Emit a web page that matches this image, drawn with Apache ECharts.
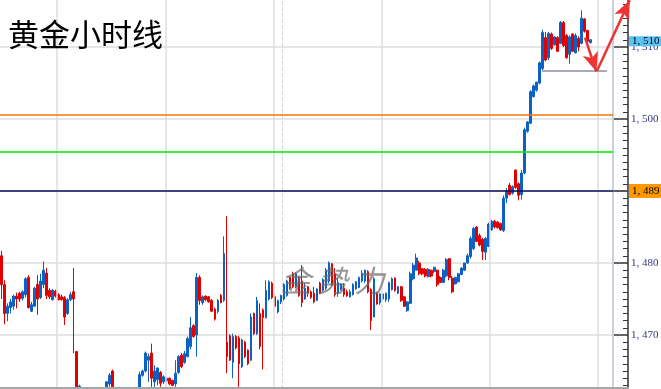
<!DOCTYPE html>
<html><head><meta charset="utf-8">
<script src="https://cdn.jsdelivr.net/npm/echarts@6/dist/echarts.min.js"></script>
<style>html,body{margin:0;padding:0;background:#fff;}#c{width:661px;height:389px;}</style>
</head><body><div id="c"></div>
<script>
// ---- data ----
const titleText = '黄金小时线';
const watermarkText = '金 势 力';

const opens = [
1481.0,1477.0,1473.0,1473.8,1474.0,1475.4,1475.8,1475.1,1475.6,1478.0,
1473.3,1474.0,1477.0,1475.2,1477.0,1478.6,1476.2,1474.9,1476.1,1475.6,
1475.3,1475.2,1473.0,1474.9,1476.0,1467.7,1461.5,1462.4,1461.6,1461.9,
1461.3,1460.9,1461.5,1461.2,1461.8,1462.0,1463.2,1465.0,1462.4,1461.8,
1461.2,1460.8,1461.4,1461.0,1461.6,1461.9,1462.2,1464.4,1465.0,1466.5,
1467.5,1463.5,1463.8,1464.8,1463.5,1463.6,1464.0,1463.7,1463.2,1464.8,
1467.2,1466.2,1467.0,1468.4,1471.3,1470.0,1478.0,1474.5,1475.4,1475.3,
1474.8,1473.6,1473.3,1475.5,1474.8,1469.0,1469.9,1466.2,1469.8,1469.6,
1465.6,1469.0,1467.9,1466.5,1473.0,1470.2,1473.0,1473.5,1472.4,1475.0,
1477.2,1475.3,1473.2,1474.6,1475.0,1475.5,1478.0,1478.5,1476.7,1478.0,
1477.5,1475.0,1476.7,1476.0,1475.8,1474.8,1477.2,1476.2,1476.5,1477.5,
1479.9,1478.5,1475.8,1476.3,1476.5,1476.0,1475.3,1475.6,1476.4,1476.6,
1477.5,1477.5,1478.8,1476.3,1472.5,1475.8,1474.5,1475.0,1474.9,1475.0,
1476.3,1477.9,1475.8,1476.7,1475.3,1473.4,1474.4,1477.8,1479.0,1480.0,
1479.2,1479.1,1478.1,1479.0,1478.8,1479.0,1478.0,1477.3,1478.2,1480.6,
1477.9,1477.1,1477.4,1478.4,1479.0,1480.0,1480.9,1482.0,1485.0,1483.8,
1483.3,1481.5,1482.3,1484.6,1485.8,1485.7,1485.5,1484.5,1489.0,1490.8,
1489.7,1492.9,1491.0,1489.5,1492.5,1498.3,1499.4,1503.1,1504.0,1505.0,
1507.0,1511.3,1508.5,1511.8,1510.3,1511.3,1510.5,1513.4,1511.6,1509.0,
1511.8,1509.2,1511.2,1510.5,1513.9,1512.3,1510.6];

const closes = [
1477.0,1473.0,1474.0,1474.6,1475.4,1475.0,1475.0,1476.0,1477.8,1473.8,
1474.2,1476.5,1475.0,1477.5,1479.0,1475.5,1475.3,1476.2,1475.4,1474.9,
1474.9,1472.5,1474.9,1475.6,1475.0,1461.0,1462.9,1461.6,1461.9,1461.3,
1460.9,1461.5,1461.2,1461.8,1462.1,1463.5,1464.4,1462.8,1461.8,1461.2,
1460.8,1461.4,1461.0,1461.6,1461.9,1462.2,1464.5,1465.0,1467.5,1467.0,
1464.0,1465.0,1465.4,1463.3,1464.2,1464.0,1463.2,1463.0,1464.7,1467.0,
1465.6,1467.4,1469.5,1471.0,1469.8,1478.0,1474.8,1475.3,1474.9,1474.6,
1473.3,1472.2,1474.8,1474.5,1481.3,1467.0,1466.5,1469.8,1468.2,1466.0,
1469.3,1467.0,1466.0,1472.5,1470.2,1474.8,1468.4,1472.4,1476.2,1477.4,
1475.2,1474.0,1474.8,1475.5,1477.0,1477.5,1476.5,1476.7,1478.5,1475.5,
1474.5,1476.5,1475.8,1475.2,1474.6,1476.4,1475.8,1477.7,1479.0,1480.0,
1477.0,1475.6,1477.3,1477.1,1475.6,1475.4,1476.0,1477.0,1477.4,1478.0,
1478.6,1479.0,1476.0,1472.0,1477.8,1474.3,1475.7,1475.7,1475.8,1477.3,
1477.8,1476.2,1476.7,1474.8,1474.0,1474.6,1478.5,1479.7,1480.7,1478.5,
1478.5,1478.2,1479.1,1478.2,1479.4,1477.0,1477.3,1479.0,1480.5,1478.0,
1476.0,1478.0,1478.5,1479.3,1480.0,1481.0,1483.4,1484.8,1483.0,1482.5,
1481.6,1483.4,1485.4,1485.8,1485.0,1484.9,1484.6,1489.0,1490.0,1489.5,
1490.6,1490.5,1489.4,1492.5,1498.5,1499.6,1503.8,1504.6,1505.1,1507.8,
1512.0,1508.2,1511.9,1509.8,1511.4,1509.4,1513.4,1510.2,1508.5,1511.4,
1509.4,1511.6,1510.0,1514.0,1512.2,1510.8,1511.0];

const lows = [
1475.0,1471.5,1471.9,1473.0,1473.5,1473.7,1474.6,1474.8,1475.2,1473.7,
1473.2,1473.9,1472.8,1475.0,1476.5,1475.0,1475.0,1474.8,1475.2,1474.8,
1474.8,1471.4,1472.8,1474.7,1467.5,1460.0,1460.5,1461.0,1461.2,1460.8,
1460.5,1460.6,1460.9,1461.0,1461.5,1461.5,1462.8,1462.0,1461.3,1460.7,
1460.3,1460.5,1460.6,1460.8,1461.3,1461.6,1461.5,1464.2,1464.8,1463.5,
1462.8,1462.8,1463.0,1462.8,1463.2,1463.4,1463.0,1462.9,1462.8,1464.6,
1465.4,1466.0,1466.9,1468.0,1469.6,1467.0,1474.2,1474.2,1474.7,1474.5,
1473.2,1472.0,1473.0,1474.4,1474.6,1464.7,1466.4,1464.0,1468.0,1462.6,
1465.4,1466.8,1465.8,1466.4,1470.0,1470.0,1468.0,1465.2,1472.3,1474.8,
1475.0,1473.9,1473.0,1474.3,1474.8,1475.3,1476.3,1476.5,1476.5,1475.3,
1473.9,1474.9,1475.3,1475.0,1474.4,1474.7,1475.7,1476.0,1476.2,1477.2,
1476.8,1475.3,1475.3,1476.2,1475.3,1475.3,1475.2,1475.5,1476.3,1476.5,
1477.3,1477.2,1475.8,1470.7,1472.5,1474.2,1474.2,1474.9,1474.6,1474.6,
1476.2,1476.0,1475.7,1474.6,1473.9,1473.2,1474.3,1477.6,1479.0,1478.3,
1478.3,1478.0,1478.0,1478.0,1478.6,1476.7,1477.2,1477.2,1478.0,1477.6,
1475.8,1477.0,1477.3,1478.3,1478.9,1479.9,1480.6,1481.8,1482.9,1482.3,
1480.4,1480.4,1482.2,1484.5,1484.8,1484.8,1484.5,1484.3,1488.3,1489.4,
1489.5,1490.3,1488.7,1488.8,1492.3,1498.1,1499.3,1503.0,1503.8,1504.8,
1506.8,1508.0,1508.2,1509.6,1510.2,1509.3,1510.4,1510.0,1508.4,1507.7,
1509.3,1509.1,1509.4,1510.4,1512.0,1510.6,1510.5];

const highs = [
1481.7,1477.6,1474.4,1475.0,1475.6,1475.9,1476.0,1476.2,1478.0,1478.3,
1474.6,1476.7,1478.3,1478.5,1480.2,1479.3,1476.5,1476.4,1476.3,1475.8,
1475.6,1475.4,1475.1,1476.0,1479.3,1467.8,1463.1,1462.5,1462.2,1462.1,
1461.6,1461.8,1461.9,1462.0,1462.3,1463.6,1464.7,1465.2,1462.5,1462.0,
1461.5,1461.7,1461.8,1461.9,1462.2,1462.4,1464.9,1465.2,1467.7,1467.4,
1468.8,1465.8,1465.5,1465.0,1464.4,1464.1,1464.1,1463.8,1466.5,1467.2,
1467.5,1467.8,1469.8,1472.5,1471.5,1478.6,1478.3,1475.5,1475.5,1475.4,
1475.0,1473.8,1475.0,1475.7,1483.7,1486.5,1470.1,1470.2,1470.0,1469.9,
1469.5,1469.2,1468.0,1473.0,1473.1,1475.3,1474.4,1473.7,1477.6,1477.6,
1477.4,1475.5,1474.9,1475.6,1477.2,1477.7,1478.1,1478.8,1478.7,1478.2,
1479.7,1477.2,1476.8,1476.2,1476.7,1476.5,1477.4,1477.9,1479.3,1480.2,
1480.0,1479.3,1477.9,1477.2,1477.2,1476.3,1476.3,1477.2,1477.5,1478.1,
1479.0,1479.1,1479.0,1476.5,1478.1,1476.0,1475.8,1475.8,1475.9,1477.4,
1478.0,1478.0,1476.8,1476.8,1475.4,1474.7,1478.8,1480.0,1481.3,1480.3,
1479.3,1479.3,1479.3,1479.1,1479.5,1479.1,1478.2,1479.2,1480.7,1480.7,
1478.2,1478.1,1478.6,1479.4,1480.0,1481.3,1483.7,1485.0,1485.1,1484.1,
1483.5,1483.6,1485.6,1486.0,1486.0,1485.8,1485.6,1489.4,1490.4,1491.1,
1490.8,1493.0,1491.2,1492.9,1498.8,1499.7,1504.0,1504.8,1505.2,1508.0,
1512.4,1512.1,1512.1,1512.0,1511.5,1511.5,1513.6,1513.6,1511.8,1511.6,
1511.9,1511.9,1511.5,1515.1,1514.0,1512.4,1511.1];

// horizontal levels
const levelOrange = 1500.65;
const levelGreen = 1495.4;
const levelDark = 1490.0;
const levelDarkLabel = '1, 489';
const lastPrice = 1510.8;
const lastPriceLabel = '1, 510';
const supportLevel = 1506.7;
const bottomLevel = 1462.64;

// annotation positions (slot index, price)
const arrowDownFrom = [194.7, 1511.3];
const arrowDownTo = [198.5, 1506.6];
const arrowUpFrom = [198.7, 1506.7];
const arrowUpTo = [209.6, 1516.5];
const supportFrom = [180.4, supportLevel];
const supportTo = [202.0, supportLevel];
const dashedSlot = 93.85;
const plotEdgeSlot = 204.0;
const dayLineSlots = [19, 55, 91, 127, 163, 199];

const yMin = 1460, yMax = 1520, yStep = 10;
const slotCount = 204;
const categories = [];
for (let i = 0; i < slotCount; i++) categories.push('H' + i);

const candles = opens.map((o, i) => [o, closes[i], lows[i], highs[i]]);

const UP = '#0b62c4', DOWN = '#e00000';
const GRID = '#dedede';
const LABEL_FONT = 'Liberation Serif';
const fmt = v => { const s = String(Math.round(v)); return s[0] + ', ' + s.slice(1); };

const gridLines = dayLineSlots.map(s => ({xAxis: s, lineStyle: {color: GRID, width: 1.5, type: 'solid'}}));
gridLines.push({xAxis: dashedSlot, lineStyle: {color: '#d4d4d4', width: 1, type: 'dashed'}});
gridLines.push({xAxis: plotEdgeSlot, lineStyle: {color: '#c8d1de', width: 2, type: 'solid'}});

const chart = echarts.init(document.getElementById('c'), null, {renderer: 'canvas'});
chart.setOption({
  backgroundColor: '#ffffff',
  animation: false,
  title: {
    text: titleText, left: 3, top: 14,
    textStyle: {fontSize: 31, fontWeight: 'normal', color: '#000', fontFamily: 'Noto Sans CJK SC'}
  },
  graphic: [{
    type: 'text', left: 281, top: 266, z: 100, silent: true,
    style: {text: watermarkText, fontSize: 30, fontStyle: 'italic', fill: 'rgba(105,105,105,0.7)', fontFamily: 'Noto Sans CJK SC'}
  }],
  grid: [
    {left: 0, right: 48, top: -25, bottom: -18, containLabel: false, outerBoundsMode: 'none'},
    {left: 0, right: 0, top: -25, bottom: -18, containLabel: false, outerBoundsMode: 'none'}
  ],
  xAxis: [
    {
      type: 'category', gridIndex: 0, data: categories, boundaryGap: true,
      axisLine: {show: false}, axisTick: {show: false}, axisLabel: {show: false},
      splitLine: {show: false}
    },
    {type: 'value', gridIndex: 1, min: 0, max: 220, show: false}
  ],
  yAxis: [
    {
      type: 'value', gridIndex: 0, position: 'right', offset: 15,
      min: yMin, max: yMax, interval: yStep,
      axisLine: {show: true, lineStyle: {color: '#333', width: 1.5}},
      axisTick: {show: true, inside: true, length: 15, lineStyle: {color: '#333', width: 1.5}},
      minorTick: {show: true, splitNumber: 10, length: 5, lineStyle: {color: '#333', width: 1}},
      axisLabel: {show: true, margin: 3, color: '#34347e', fontFamily: LABEL_FONT, fontSize: 11, formatter: fmt},
      splitLine: {show: true, lineStyle: {color: GRID, width: 1.5}}
    },
    {type: 'value', gridIndex: 1, min: yMin, max: yMax, show: false}
  ],
  series: [
    {
      type: 'line', xAxisIndex: 1, yAxisIndex: 1, data: [], silent: true, z: 1,
      markLine: {silent: true, symbol: ['none', 'none'], animation: false, label: {show: false}, data: gridLines}
    },
    {
      type: 'candlestick', xAxisIndex: 0, yAxisIndex: 0, z: 2,
      data: candles, barWidth: 2.2,
      itemStyle: {color: UP, color0: DOWN, borderColor: UP, borderColor0: DOWN, borderWidth: 1},
      markLine: {
        silent: true, symbol: ['none', 'none'], animation: false,
        data: [
          {yAxis: levelOrange, lineStyle: {color: '#ff7300', width: 1.5, type: 'solid'}, label: {show: false}},
          {yAxis: levelGreen, lineStyle: {color: '#00e600', width: 1.5, type: 'solid'}, label: {show: false}},
          {yAxis: levelDark, lineStyle: {color: '#0a0a60', width: 1.5, type: 'solid'},
            label: {show: true, position: 'end', distance: 16, formatter: levelDarkLabel, color: '#000',
              backgroundColor: '#ff9900', padding: [2, 3, 1, 3], fontFamily: LABEL_FONT, fontSize: 11, lineHeight: 11}},
          {yAxis: lastPrice, lineStyle: {color: 'rgba(0,0,0,0)', width: 0},
            label: {show: true, position: 'end', distance: 16, formatter: lastPriceLabel, color: '#000',
              backgroundColor: '#5cc3f5', padding: [0, 3, 0, 3], fontFamily: LABEL_FONT, fontSize: 11, lineHeight: 10}}
        ]
      }
    },
    {
      type: 'line', xAxisIndex: 1, yAxisIndex: 1, data: [], silent: true, z: 5,
      markLine: {
        silent: true, symbol: ['none', 'none'], animation: false, label: {show: false},
        data: [
          [{coord: [0, bottomLevel], lineStyle: {color: '#a6a6a6', width: 2, type: 'solid'}}, {coord: [209.3, bottomLevel]}],
          [{coord: [plotEdgeSlot, levelDark], lineStyle: {color: '#555', width: 1.5, type: 'solid'}}, {coord: [209.2, levelDark]}],
          [{coord: supportFrom, lineStyle: {color: '#8c8ca6', width: 1.5, type: 'solid'}}, {coord: supportTo}],
          [{coord: arrowDownFrom, lineStyle: {color: '#ee3333', width: 2.5, type: 'solid'}},
           {coord: arrowDownTo, symbol: 'arrow', symbolSize: [12, 19]}],
          [{coord: arrowUpFrom, lineStyle: {color: '#ee3333', width: 2.5, type: 'solid'}},
           {coord: arrowUpTo, symbol: 'arrow', symbolSize: [12, 19]}]
        ]
      }
    }
  ]
});
</script>
</body></html>
